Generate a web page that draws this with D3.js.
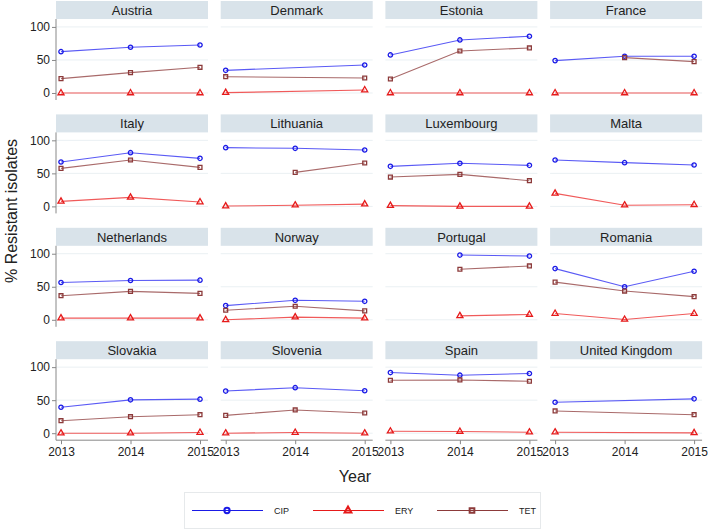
<!DOCTYPE html>
<html><head><meta charset="utf-8">
<script src="https://cdn.jsdelivr.net/npm/d3@7"></script>
<style>body{margin:0;background:#fff;}svg{font-family:"Liberation Sans",Arial,sans-serif;}</style>
</head><body><svg id="c" width="709" height="530"></svg>
<script>
const countries = ["Austria","Denmark","Estonia","France","Italy","Lithuania","Luxembourg","Malta","Netherlands","Norway","Portugal","Romania","Slovakia","Slovenia","Spain","United Kingdom"];
const years = [2013, 2014, 2015];
const yTicks = [0, 50, 100];
// null = missing
const CIP = [[62.6,69.2,72.7],[34.3,null,42.4],[57.6,80.3,85.9],[49,55.6,55.6],
             [67.2,81.3,72.7],[88.9,87.9,85.4],[60.6,65.2,62.1],[70.2,66.2,62.6],
             [56.5,59.5,60],[21.5,29.5,28],[null,98,96.5],[77.5,50,73.5],
             [39.3,50.5,51.5],[63.8,68.9,64.3],[91.8,87.8,90.3],[46.9,null,52]];
const ERY = [[0,0,0],[0.5,null,4.5],[0,0,0],[0,0,0],
             [7.6,13.6,6.6],[0.5,1.8,3.5],[1.2,0,0],[19.7,1.8,2.5],
             [2.5,2.5,2.5],[0,4,2.5],[null,6,8],[9.5,0.5,9.5],
             [0,0,1],[0,1,0],[3,2.6,1.5],[1.5,null,0.5]];
const TET = [[21.7,30.8,38.9],[24.7,null,22.7],[21.2,63.6,68.2],[null,53.5,47.5],
             [57.6,70.2,59.1],[null,51.5,65.7],[44.4,48.5,38.9],[null,null,null],
             [36.5,43,40],[14.5,20.5,13.5],[null,76.5,81.5],[57,43.5,35],
             [18.9,25,28],[27,35.2,30.6],[80.1,80.6,78.6],[33.7,null,28]];
const seriesNames = ["CIP","ERY","TET"];
const seriesData = [CIP, ERY, TET];
const lineColors = ["#5a5af5","#f05a5a","#a96a6a"];
const markColors = ["#1a1ae6","#e61a1a","#8c3a3a"];
const shapes = [d3.symbolCircle, d3.symbolTriangle, d3.symbolSquare];

const svg = d3.select("#c");
const colX0 = 56, colStep = 164.7, panelW = 152;
const rowY0 = 1, rowStep = 113.4, headH = 18, plotH = 81;

const x = d3.scaleLinear().domain([2013, 2015]).range([5, 144]);
const y = d3.scaleLinear().domain([-10.6, 112]).range([plotH, 0]);

function sym(g, i, cx, cy, size) {
  g.append("path").attr("d", d3.symbol().type(shapes[i]).size(size)())
    .attr("transform", `translate(${cx},${cy})`)
    .attr("fill", "none").attr("stroke", markColors[i]).attr("stroke-width", 1.3);
}

countries.forEach((name, k) => {
  const r = Math.floor(k / 4), c = k % 4;
  const px = colX0 + c * colStep, py = rowY0 + r * rowStep;
  const g = svg.append("g").attr("transform", `translate(${px},${py})`);
  g.append("rect").attr("width", panelW).attr("height", headH).attr("fill", "#d9e3ea");
  g.append("text").attr("x", panelW / 2).attr("y", 14).attr("text-anchor", "middle")
    .attr("font-size", 13).attr("fill", "#222").text(name);
  const p = g.append("g").attr("transform", `translate(0,${headH})`);
  // gridlines
  p.selectAll("line.grid").data(yTicks).enter().append("line")
    .attr("x1", 0).attr("x2", panelW).attr("y1", d => y(d)).attr("y2", d => y(d))
    .attr("stroke", "#eaf0f3").attr("stroke-width", 1);
  if (c === 0) {
    const ax = p.append("g").call(d3.axisLeft(y).tickValues(yTicks).tickSize(4).tickPadding(2));
    ax.select(".domain").attr("stroke", "#888").attr("d", `M0,0V${plotH}`);
    ax.selectAll(".tick line").attr("stroke", "#888");
    ax.selectAll("text").attr("font-size", 12).attr("fill", "#222")
      .attr("font-family", '"Liberation Sans",Arial,sans-serif');
  }
  if (r === 3) {
    const ax = p.append("g").attr("transform", `translate(0,${plotH})`)
      .call(d3.axisBottom(x).tickValues(years).tickFormat(d3.format("d")).tickSize(4).tickPadding(3));
    ax.select(".domain").attr("stroke", "#888").attr("d", `M0,0H${panelW}`);
    ax.selectAll(".tick line").attr("stroke", "#888");
    ax.selectAll("text").attr("font-size", 12).attr("fill", "#222")
      .attr("font-family", '"Liberation Sans",Arial,sans-serif');
  }
  seriesData.forEach((S, i) => {
    const pts = years.map((yr, j) => ({yr, v: S[k][j]})).filter(d => d.v !== null);
    p.append("path").datum(pts)
      .attr("d", d3.line().x(d => x(d.yr)).y(d => y(d.v)))
      .attr("fill", "none").attr("stroke", lineColors[i]).attr("stroke-width", 1.1);
    pts.forEach(d => sym(p, i, x(d.yr), y(d.v), i === 1 ? 16 : 15));
  });
});

// axis titles
svg.append("text").attr("transform", "translate(17,211) rotate(-90)")
  .attr("text-anchor", "middle").attr("font-size", 16).attr("fill", "#222").text("% Resistant isolates");
svg.append("text").attr("x", 355).attr("y", 482).attr("text-anchor", "middle")
  .attr("font-size", 16).attr("fill", "#222").text("Year");

// legend
const lg = svg.append("g");
lg.append("rect").attr("x", 184.5).attr("y", 492.5).attr("width", 356).attr("height", 36)
  .attr("fill", "#fff").attr("stroke", "#e6e9eb");
const lx = [192, 313, 437];
seriesNames.forEach((n, i) => {
  const x0 = lx[i], cy = 510.5;
  lg.append("line").attr("x1", x0).attr("x2", x0 + 71).attr("y1", cy).attr("y2", cy)
    .attr("stroke", markColors[i]).attr("stroke-width", 1.2);
  lg.append("path").attr("d", d3.symbol().type(shapes[i]).size(i === 1 ? 20 : 22)())
    .attr("transform", `translate(${x0 + 35},${cy})`).attr("fill", "none")
    .attr("stroke", markColors[i]).attr("stroke-width", 2);
  lg.append("text").attr("x", x0 + 82).attr("y", cy + 3.5).attr("font-size", 9)
    .attr("fill", "#222").text(n);
});
</script></body></html>
